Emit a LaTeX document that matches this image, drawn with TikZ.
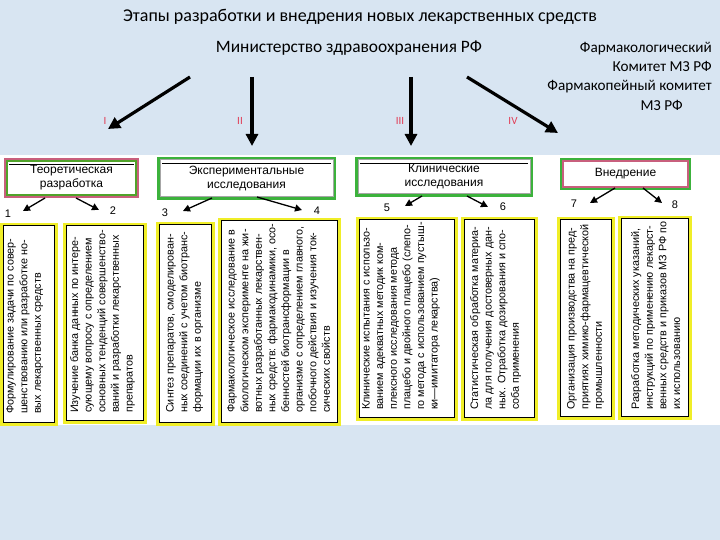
\documentclass[tikz,border=0pt]{standalone}
\usepackage{fontspec}
\setmainfont{Liberation Sans}
\newfontfamily\calfont{Carlito}
\usetikzlibrary{arrows.meta}
\definecolor{bgc}{RGB}{216,229,242}
\definecolor{yboxc}{RGB}{240,238,40}
\definecolor{greenc}{RGB}{60,178,60}
\definecolor{pinkc}{RGB}{200,95,125}
\definecolor{romc}{RGB}{225,60,85}
\tikzset{
  hdr/.style={draw, fill=white, line width=2.5pt, anchor=north west, inner sep=0pt,
    align=center, font=\fontsize{12}{14}\selectfont},
  cbox/.style={draw=yboxc, fill=white, line width=3.5pt, anchor=north west, inner sep=0pt},
  ctext/.style={rotate=90, anchor=north west, align=left, inner sep=0pt,
    font=\fontsize{10.8}{13.6}\selectfont},
  bigarrow/.style={line width=3.2pt, -{Triangle[length=12pt,width=12pt]}},
  smallarrow/.style={line width=1.3pt, -{Triangle[length=7pt,width=7pt]}},
  numlab/.style={font=\fontsize{11}{13}\selectfont, inner sep=0pt},
  roman/.style={text=romc, font=\calfont\fontsize{11}{13}\selectfont, inner sep=0pt},
  toptext/.style={font=\calfont\fontsize{18}{21}\selectfont, inner sep=0pt}
}
\newcommand{\innerframe}[3]{%
  \draw[#2, line width=#3] ([shift={(3,3)}]#1.north west) rectangle ([shift={(-3,-3)}]#1.south east);}
\newcommand{\topline}[1]{%
  \draw[black, line width=0.8pt] ([shift={(5,6)}]#1.north west) -- ([shift={(-5,6)}]#1.north east);}
\begin{document}
\begin{tikzpicture}[x=1pt,y=-1pt]
\useasboundingbox (0,0) rectangle (720,540);
\fill[bgc] (0,0) rectangle (720,540);
\fill[white] (0,155) rectangle (720,425);

% top texts
\node[toptext] (title) at (360,17) {Этапы разработки и внедрения новых лекарственных средств};
\node[toptext, font=\calfont\fontsize{17.4}{21}\selectfont] (min) at (349,48) {Министерство здравоохранения РФ};
\node[toptext, anchor=north east, align=right, font=\calfont\fontsize{15.2}{19.2}\selectfont] (fk) at (712,42)
  {Фармакологический\\Комитет МЗ РФ\\Фармакопейный комитет\\МЗ РФ\hspace*{29pt}};

% roman numerals
\node[roman] (r1) at (105,121) {I};
\node[roman] (r2) at (240,121) {II};
\node[roman] (r3) at (400,121) {III};
\node[roman] (r4) at (513,121) {IV};

% big arrows
\coordinate (a1s) at (190,77); \coordinate (a1e) at (108,129);
\coordinate (a2s) at (252,77); \coordinate (a2e) at (252,146);
\coordinate (a3s) at (411,77); \coordinate (a3e) at (411,146);
\coordinate (a4s) at (467,77); \coordinate (a4e) at (558,133);
\draw[bigarrow] (a1s) -- (a1e);
\draw[bigarrow] (a2s) -- (a2e);
\draw[bigarrow] (a3s) -- (a3e);
\draw[bigarrow] (a4s) -- (a4e);

% header boxes
\node[hdr, draw=pinkc, line width=2pt, minimum width=133, minimum height=38] (h1) at (4,158) {Теоретическая\\разработка};
\innerframe{h1}{greenc!70!olive}{2pt}\topline{h1}
\node[hdr, draw=greenc, line width=3pt, minimum width=176, minimum height=40] (h2) at (157,157) {Экспериментальные\\исследования};
\innerframe{h2}{gray!70}{1pt}\topline{h2}
\node[hdr, draw=greenc, line width=3pt, minimum width=175, minimum height=37] (h3) at (355,157) {Клинические\\исследования};
\innerframe{h3}{gray!70}{1pt}\topline{h3}
\node[hdr, draw=greenc, line width=3pt, minimum width=128, minimum height=29] (h4) at (560,158) {Внедрение};
\innerframe{h4}{pinkc}{2pt}

% numbers
\node[numlab] (n1) at (8,214) {1};
\node[numlab] (n2) at (113,211) {2};
\node[numlab] (n3) at (165,213) {3};
\node[numlab] (n4) at (317,211) {4};
\node[numlab] (n5) at (387,208) {5};
\node[numlab] (n6) at (503,207) {6};
\node[numlab] (n7) at (574,204) {7};
\node[numlab] (n8) at (675,205) {8};

% small arrows
\coordinate (s1) at (45,198);  \coordinate (e1) at (23,211);
\coordinate (s2) at (76,198);  \coordinate (e2) at (99,210);
\coordinate (s3) at (212,198); \coordinate (e3) at (183,211);
\coordinate (s4) at (257,197); \coordinate (e4) at (302,210);
\coordinate (s5) at (422,196); \coordinate (e5) at (405,206);
\coordinate (s6) at (467,196); \coordinate (e6) at (488,207);
\coordinate (s7) at (615,188); \coordinate (e7) at (590,203);
\coordinate (s8) at (643,188); \coordinate (e8) at (662,203);
\foreach \i in {1,...,8} {\draw[smallarrow] (s\i) -- (e\i);}

% content boxes
\node[cbox, minimum width=54, minimum height=199] (c1) at (0,223) {};
\node[cbox, minimum width=80, minimum height=197] (c2) at (63,223) {};
\node[cbox, minimum width=55, minimum height=200] (c3) at (156,222) {};
\node[cbox, minimum width=119, minimum height=204] (c4) at (218,218) {};
\node[cbox, minimum width=98, minimum height=200] (c5) at (356,217) {};
\node[cbox, minimum width=73, minimum height=200] (c6) at (461,217) {};
\node[cbox, minimum width=54, minimum height=199] (c7) at (557,217) {};
\node[cbox, minimum width=70, minimum height=200] (c8) at (618,216) {};
\foreach \c in {c1,c2,c3,c4,c5,c6,c7,c8} {\innerframe{\c}{black}{1pt}}

\node[ctext] (t1) at (6,414) {Формулирование задачи по совер-\\шенствованию или разработке но-\\вых лекарственных средств};
\node[ctext] (t2) at (70,413) {Изучение банка данных по интере-\\сующему вопросу с определением\\основных тенденций совершенство-\\ваний и разработки лекарственных\\препаратов};
\node[ctext] (t3) at (166,413) {Синтез препаратов, смоделирован-\\ных соединений с учетом биотранс-\\формации их в организме};
\node[ctext] (t4) at (227,413) {Фармакологическое исследование в\\биологическом эксперименте на жи-\\вотных разработанных лекарствен-\\ных средств: фармакодинамики, осо-\\бенностей биотрансформации в\\организме с определением главного,\\побочного действия и изучения ток-\\сических свойств};
\node[ctext] (t5) at (362,410) {Клинические испытания с использо-\\ванием адекватных методик ком-\\плексного исследования метода\\плацебо и двойного плацебо (слепо-\\го метода с использованием пустыш-\\ки—имитатора лекарства)};
\node[ctext] (t6) at (470,410) {Статистическая обработка материа-\\ла для получения достоверных дан-\\ных. Отработка дозирования и спо-\\соба применения};
\node[ctext] (t7) at (567,410) {Организация производства на пред-\\приятиях химико-фармацевтической\\промышленности};
\node[ctext] (t8) at (631,410) {Разработка методических указаний,\\инструкций по применению лекарст-\\венных средств и приказов МЗ РФ по\\их использованию};
\end{tikzpicture}
\end{document}
